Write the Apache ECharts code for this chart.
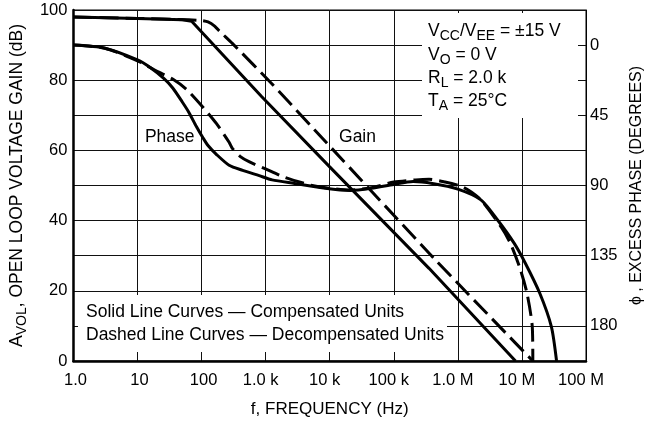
<!DOCTYPE html>
<html><head><meta charset="utf-8">
<script src="https://cdn.jsdelivr.net/npm/echarts@6/dist/echarts.min.js"></script>
<style>html,body{margin:0;padding:0;background:#fff}#c{width:653px;height:425px}</style>
</head><body><div id="c"></div>
<script>
const FONT = "'Liberation Sans', Arial, Helvetica, sans-serif";

// tick labels
const freqTickLabels = ['1.0', '10', '100', '1.0 k', '10 k', '100 k', '1.0 M', '10 M', '100 M'];
const gainTickLabels = [0, 20, 40, 60, 80, 100];
const phaseTickLabels = [0, 45, 90, 135, 180];

// Gain, compensated units (solid)
const gainCompFreq = [1, 10, 50, 70, 871, 1e4, 3.55e5, 7.94e6];
const gainCompDb   = [98, 97.6, 97.2, 96.8, 75.3, 55.3, 26.4, 0];

// Gain, decompensated units (dashed)
const gainDecompFreq = [1, 10, 63, 100, 126, 158, 200, 302, 1260, 9120, 4.47e5, 1.48e7];
const gainDecompDb   = [98, 97.6, 97.2, 97, 96.6, 95.5, 93.6, 90.5, 78.9, 62, 28.8, 0];

// Excess phase, compensated units (solid)
const phaseCompFreq = [1, 3.1, 10, 15.8, 25.7, 35.5, 50, 63.1, 83, 105, 126, 170, 269, 437, 794, 1260, 2820, 8510, 20900, 44700, 1e5, 2e5, 4e5, 1e6, 2.29e6, 4.17e6, 7.59e6, 1.12e7, 1.9e7, 2.88e7, 3.47e7];
const phaseCompDeg  = [0, 2, 9.5, 14.4, 21.4, 27.5, 36.5, 43.0, 52.2, 59.4, 64.4, 70.0, 77.0, 80.3, 83.7, 86.4, 88.7, 91.8, 93.2, 91.8, 89.3, 87.5, 88.7, 92.3, 99.2, 112.1, 127.1, 139.5, 159.1, 180.5, 202.5];

// Excess phase, decompensated units (dashed)
const phaseDecompFreq = [1, 3.1, 10, 18.2, 36.3, 58.9, 105, 170, 269, 302, 398, 550, 977, 2000, 5130, 1e4, 20900, 44700, 1e5, 2.19e5, 3.55e5, 6.31e5, 1.15e6, 1.62e6, 2.29e6, 4.68e6, 6.61e6, 9.33e6, 1.2e7, 1.45e7, 1.48e7];
const phaseDecompDeg  = [0, 2, 10.1, 15.8, 22.1, 28.6, 39.8, 50.2, 62.3, 66.2, 71.3, 74.7, 79.2, 84.8, 89.8, 91.8, 92.9, 91.4, 87.8, 86.4, 86.0, 87.8, 90.7, 94.1, 99.2, 116.3, 127.1, 143.1, 159.1, 180.5, 202.5];

const zip = (xs, ys) => xs.map((x, i) => [x, ys[i]]);

const chart = echarts.init(document.getElementById('c'), null, {renderer: 'canvas'});

const subA = {fontFamily: FONT, fontSize: 17.5, color: '#000', lineHeight: 24};
const subS = {fontFamily: FONT, fontSize: 14, color: '#000', lineHeight: 13, verticalAlign: 'bottom'};

const option = {
  animation: false,
  backgroundColor: '#fff',
  grid: {left: 68, right: 63, top: 10, bottom: 64, show: true, borderColor: '#000', borderWidth: 1, containLabel: false},
  xAxis: {
    type: 'log', logBase: 10, min: 1, max: 1e8, splitNumber: 8,
    name: 'f, FREQUENCY (Hz)', nameLocation: 'middle', nameGap: 40,
    nameTextStyle: {fontFamily: FONT, fontSize: 17, color: '#000'},
    axisLine: {show: true, onZero: false, lineStyle: {color: '#000', width: 2.5}},
    axisTick: {show: false},
    minorTick: {show: false},
    splitLine: {show: true, lineStyle: {color: '#111', width: 1}},
    axisLabel: {
      margin: 11, color: '#000', fontFamily: FONT, fontSize: 16.5,
      formatter: v => {
        const lab = freqTickLabels[Math.round(Math.log10(v))];
        if (lab === undefined) return '';
        return lab.indexOf(' ') >= 0 ? '{k|' + lab + '}' : '{n|' + lab + '}';
      },
      rich: {
        k: {fontFamily: FONT, fontSize: 16.5, color: '#000', padding: [0, 10, 0, 0]},
        n: {fontFamily: FONT, fontSize: 16.5, color: '#000', padding: [0, 0, 0, 4]}
      }
    }
  },
  yAxis: [
    {
      type: 'value', position: 'left', min: 0, max: 100, interval: 10,
      name: '{a|A}{s|VOL}{a|, OPEN LOOP VOLTAGE GAIN (dB)}', nameLocation: 'middle', nameGap: 43,
      nameTextStyle: {fontFamily: FONT, fontSize: 17.5, color: '#000', rich: {a: subA, s: subS}},
      axisLine: {show: true, onZero: false, lineStyle: {color: '#000', width: 2.5}},
      axisTick: {show: false},
      splitLine: {show: true, lineStyle: {color: '#111', width: 1}},
      axisLabel: {
        margin: 6, color: '#000', fontFamily: FONT, fontSize: 16.5,
        formatter: v => gainTickLabels.indexOf(v) >= 0 ? String(v) : ''
      }
    },
    {
      type: 'value', position: 'right', inverse: true, min: -22.5, max: 202.5, interval: 22.5,
      name: 'ϕ , EXCESS PHASE (DEGREES)', nameLocation: 'middle', nameGap: 43, nameRotate: 90,
      nameTextStyle: {fontFamily: FONT, fontSize: 16, color: '#000'},
      axisLine: {show: true, onZero: false, lineStyle: {color: '#000', width: 1}},
      axisTick: {show: false},
      splitLine: {show: false},
      axisLabel: {
        margin: 4, color: '#000', fontFamily: FONT, fontSize: 16.5,
        formatter: v => phaseTickLabels.indexOf(v) >= 0 ? String(v) : ''
      }
    }
  ],
  series: [
    {type: 'line', name: 'Gain (compensated)', yAxisIndex: 0, data: zip(gainCompFreq, gainCompDb),
     showSymbol: false, smooth: false, lineStyle: {color: '#000', width: 3}, z: 5},
    {type: 'line', name: 'Gain (decompensated)', yAxisIndex: 0, data: zip(gainDecompFreq, gainDecompDb),
     showSymbol: false, smooth: 0.2, lineStyle: {color: '#000', width: 3, type: [19, 7]}, z: 5},
    {type: 'line', name: 'Phase (compensated)', yAxisIndex: 1, data: zip(phaseCompFreq, phaseCompDeg),
     showSymbol: false, smooth: 0.25, lineStyle: {color: '#000', width: 3}, z: 5},
    {type: 'line', name: 'Phase (decompensated)', yAxisIndex: 1, data: zip(phaseDecompFreq, phaseDecompDeg),
     showSymbol: false, smooth: 0.25, lineStyle: {color: '#000', width: 3, type: [19, 7]}, z: 5}
  ],
  graphic: [
    {type: 'rect', z: 1, shape: {x: 78, y: 295, width: 369, height: 57}, style: {fill: '#fff'}},
    {type: 'rect', z: 1, shape: {x: 422, y: 13, width: 156, height: 105}, style: {fill: '#fff'}},
    {type: 'text', z: 10, x: 86, y: 312, style: {text: 'Solid Line Curves — Compensated Units', fontFamily: FONT, fontSize: 17.5, fill: '#000', verticalAlign: 'middle'}},
    {type: 'text', z: 10, x: 86, y: 334.7, style: {text: 'Dashed Line Curves — Decompensated Units', fontFamily: FONT, fontSize: 17.5, fill: '#000', verticalAlign: 'middle'}},
    {type: 'text', z: 10, x: 169.7, y: 137.5, style: {text: 'Phase', fontFamily: FONT, fontSize: 17.5, fill: '#000', align: 'center', verticalAlign: 'middle'}},
    {type: 'text', z: 10, x: 357.5, y: 137.5, style: {text: 'Gain', fontFamily: FONT, fontSize: 17.5, fill: '#000', align: 'center', verticalAlign: 'middle'}},
    {type: 'text', z: 10, x: 428, y: 31, style: {text: '{a|V}{s|CC}{a|/V}{s|EE}{a| = ±15 V}', rich: {a: subA, s: subS}, fontFamily: FONT, fontSize: 17.5, fill: '#000', verticalAlign: 'middle'}},
    {type: 'text', z: 10, x: 428, y: 55, style: {text: '{a|V}{s|O}{a| = 0 V}', rich: {a: subA, s: subS}, fontFamily: FONT, fontSize: 17.5, fill: '#000', verticalAlign: 'middle'}},
    {type: 'text', z: 10, x: 428, y: 78, style: {text: '{a|R}{s|L}{a| = 2.0 k}', rich: {a: subA, s: subS}, fontFamily: FONT, fontSize: 17.5, fill: '#000', verticalAlign: 'middle'}},
    {type: 'text', z: 10, x: 428, y: 101, style: {text: '{a|T}{s|A}{a| = 25°C}', rich: {a: subA, s: subS}, fontFamily: FONT, fontSize: 17.5, fill: '#000', verticalAlign: 'middle'}}
  ]
};
chart.setOption(option);
</script>
</body></html>
